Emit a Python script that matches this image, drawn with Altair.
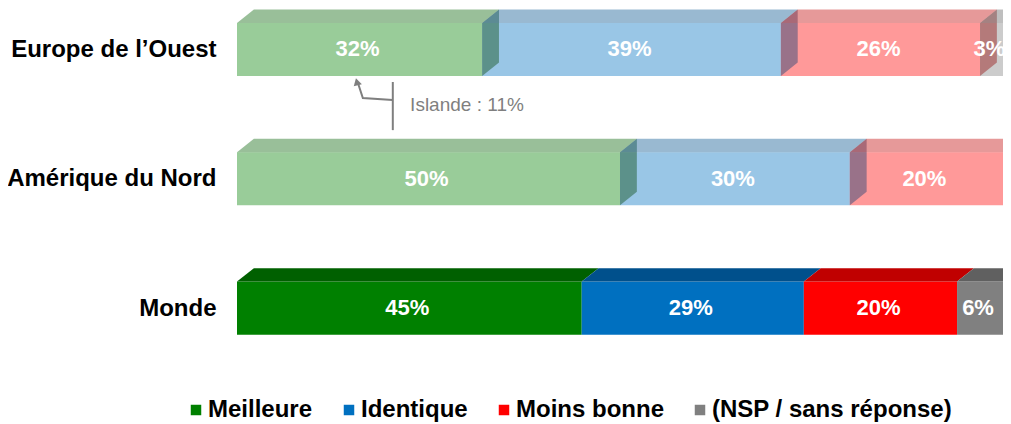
import json
import altair as alt
import pandas as pd

# ---------------- data ----------------
REGIONS = ["Europe de l’Ouest", "Amérique du Nord", "Monde"]
SERIES = ["Meilleure", "Identique", "Moins bonne", "(NSP / sans réponse)"]
MEILLEURE = [32, 50, 45]
IDENTIQUE = [39, 30, 29]
MOINS_BONNE = [26, 20, 20]
NSP = [3, 0, 6]
NOTE_TEXT = "Islande : 11%"

# ---------------- style ----------------
FRONT = ["#008000", "#0070C0", "#FF0000", "#808080"]
TOP = ["#006000", "#00508C", "#C00000", "#606060"]
SIDE = ["#004000", "#003870", "#900000", "#505050"]
BAR_OPACITY = [0.4, 0.4, 1.0]
HALF = 0.205      # half bar thickness (y units)
DY = 0.104        # 3D depth, vertical (y units)
DX = 2.2          # 3D depth, horizontal (x units, %)
FONT = "Liberation Sans"
GRAY = "#7f7f7f"

values = [MEILLEURE, IDENTIQUE, MOINS_BONNE, NSP]

fronts, tops, sides, labels = [], [], [], []
for i, region in enumerate(REGIONS):
    op = BAR_OPACITY[i]
    segs = [(k, values[k][i]) for k in range(len(SERIES)) if values[k][i] > 0]
    cum = 0
    for j, (k, v) in enumerate(segs):
        x0, x1 = cum, cum + v
        cum = x1
        yt, yb = i - HALF, i + HALF
        key = f"k{i}{k}"
        fronts.append(dict(series=SERIES[k], x0=x0, x1=x1, yt=yt, yb=yb, op=op))
        labels.append(dict(x=(x0 + x1) / 2, y=i, t=f"{v}%", op=op))
        for px, a, b in [(x0, yt, yt), (x0 + DX, yt - DY, yt),
                         (x1, yt - DY, yt), (x1 + DX, yt - DY, yt - DY)]:
            tops.append(dict(key=key, px=px, ya=a, yb2=b, col=TOP[k], op=op))
        if op < 1 or j == len(segs) - 1:
            for px, a, b in [(x1, yt, yb), (x1 + DX, yt - DY, yb - DY)]:
                sides.append(dict(key=key, px=px, ya=a, yb2=b, col=SIDE[k], op=op))

df_front = pd.DataFrame(fronts)
df_top = pd.DataFrame(tops)
df_side = pd.DataFrame(sides)
df_lab = pd.DataFrame(labels)

xs = alt.Scale(domain=[0, 100], nice=False, zero=False)
ys = alt.Scale(domain=[-0.32, 2.54], nice=False, zero=False, reverse=True)
label_expr = json.dumps(REGIONS, ensure_ascii=False) + "[datum.value]"
yaxis = alt.Axis(values=[0, 1, 2], labelExpr=label_expr, title=None,
                 domain=False, ticks=False, grid=False, labelFont=FONT,
                 labelFontSize=24, labelFontWeight="bold", labelColor="black",
                 labelPadding=21, labelLimit=0)


def X(f):
    return alt.X(f, scale=xs, axis=None)


def Y(f):
    return alt.Y(f, scale=ys, axis=yaxis)


def faces(df):
    return alt.Chart(df).mark_area(orient="vertical").encode(
        x=X("px:Q"), y=Y("ya:Q"), y2="yb2:Q", detail="key:N",
        fill=alt.Fill("col:N", scale=None),
        opacity=alt.Opacity("op:Q", scale=None))


side_layer = faces(df_side)
top_layer = faces(df_top)

front_layer = alt.Chart(df_front).mark_rect().encode(
    x=X("x0:Q"), x2="x1:Q", y=Y("yt:Q"), y2="yb:Q",
    color=alt.Color("series:N", scale=alt.Scale(domain=SERIES, range=FRONT),
                    legend=alt.Legend(title=None, orient="none", legendX=-53, legendY=390,
                                      direction="horizontal", columns=4,
                                      symbolType="square", symbolSize=110,
                                      symbolOpacity=1, symbolStrokeWidth=0,
                                      labelFont=FONT, labelFontSize=24,
                                      labelFontWeight="bold", labelColor="black",
                                      labelOffset=0, columnPadding=24, padding=0,
                                      labelLimit=0)),
    opacity=alt.Opacity("op:Q", scale=None))

text_layer = alt.Chart(df_lab).mark_text(
    font=FONT, fontSize=22, fontWeight="bold", color="white", dx=-2).encode(
    x=X("x:Q"), y=Y("y:Q"), text="t:N")

# annotation (Islande)
df_rule = pd.DataFrame([dict(x=20.34, y=0.252, y2=0.624)])
df_arrow = pd.DataFrame(dict(x=[20.34, 16.43, 15.8], y=[0.392, 0.376, 0.262], o=[0, 1, 2]))
df_head = pd.DataFrame([dict(x=15.65, y=0.25)])
df_note = pd.DataFrame([dict(x=22.6, y=0.43, t=NOTE_TEXT)])

rule = alt.Chart(df_rule).mark_rule(color=GRAY, strokeWidth=2).encode(
    x=X("x:Q"), y=Y("y:Q"), y2="y2:Q")
arrow = alt.Chart(df_arrow).mark_line(color=GRAY, strokeWidth=2).encode(
    x=X("x:Q"), y=Y("y:Q"), order="o:Q")
head = alt.Chart(df_head).mark_point(shape="triangle-up", filled=True, color=GRAY,
                                     size=70, angle=345, opacity=1).encode(
    x=X("x:Q"), y=Y("y:Q"))
note = alt.Chart(df_note).mark_text(font=FONT, fontSize=19, color=GRAY,
                                    align="left", baseline="middle").encode(
    x=X("x:Q"), y=Y("y:Q"), text="t:N")

chart = alt.layer(front_layer, side_layer, top_layer, text_layer,
                  rule, arrow, head, note).properties(
    width=766, height=370,
    autosize=alt.AutoSizeParams(type="none"),
    padding={"left": 229, "top": 0, "right": 0, "bottom": 44},
).configure_view(stroke=None)

chart.save("out.html", embed_options={"renderer": "svg", "actions": False})
